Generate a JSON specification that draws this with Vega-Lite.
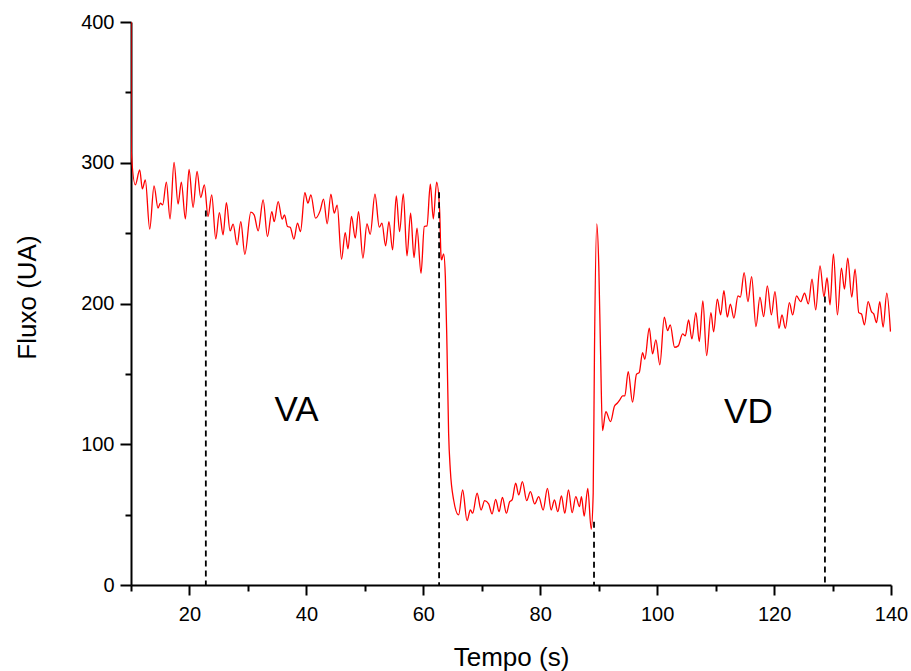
{
  "$schema": "https://vega.github.io/schema/vega-lite/v6.json",
  "width": 760,
  "height": 563,
  "autosize": {"type": "none"},
  "padding": {"left": 131, "top": 22, "right": 20, "bottom": 86},
  "background": "white",
  "config": {
    "view": {"stroke": null},
    "font": "Liberation Sans",
    "axis": {
      "grid": false,
      "domainColor": "black",
      "tickColor": "black",
      "labelColor": "black",
      "titleColor": "black",
      "domainWidth": 2,
      "tickWidth": 2,
      "labelFont": "Liberation Sans",
      "titleFont": "Liberation Sans",
      "labelFontSize": 20,
      "titleFontSize": 26,
      "titleFontWeight": "normal",
      "labelOverlap": false,
      "labelFlush": false
    }
  },
  "datasets": {
    "flux": [
      {"t": 10.00, "v": 400}, {"t": 10.02, "v": 325}, {"t": 10.05, "v": 308},
      {"t": 10.74, "v": 284.3}, {"t": 11.49, "v": 295.0}, {"t": 11.94, "v": 281.4}, {"t": 12.45, "v": 287.8},
      {"t": 13.20, "v": 252.8}, {"t": 13.94, "v": 283.6}, {"t": 14.62, "v": 267.7}, {"t": 15.02, "v": 271.3},
      {"t": 15.42, "v": 270.1}, {"t": 16.05, "v": 286.2}, {"t": 16.68, "v": 260.1}, {"t": 17.36, "v": 300.2},
      {"t": 18.05, "v": 270.6}, {"t": 18.61, "v": 286.2}, {"t": 19.30, "v": 260.1}, {"t": 19.93, "v": 295.2},
      {"t": 20.62, "v": 268.4}, {"t": 21.30, "v": 293.8}, {"t": 21.93, "v": 275.3}, {"t": 22.55, "v": 284.3},
      {"t": 23.18, "v": 261.8}, {"t": 23.81, "v": 277.2}, {"t": 24.50, "v": 245.9}, {"t": 25.12, "v": 264.6},
      {"t": 25.75, "v": 248.8}, {"t": 26.32, "v": 271.7}, {"t": 26.95, "v": 251.6}, {"t": 27.47, "v": 256.4},
      {"t": 28.15, "v": 241.6}, {"t": 28.78, "v": 258.2}, {"t": 29.47, "v": 235.0}, {"t": 30.50, "v": 264.9},
      {"t": 31.06, "v": 263.0}, {"t": 31.75, "v": 251.6}, {"t": 32.60, "v": 273.6}, {"t": 33.34, "v": 247.6},
      {"t": 34.09, "v": 265.3}, {"t": 34.49, "v": 258.2}, {"t": 35.17, "v": 272.4}, {"t": 35.86, "v": 259.9},
      {"t": 36.25, "v": 263.0}, {"t": 36.77, "v": 254.7}, {"t": 37.23, "v": 254.2}, {"t": 37.86, "v": 245.7},
      {"t": 38.48, "v": 257.1}, {"t": 38.99, "v": 251.1}, {"t": 39.74, "v": 278.8}, {"t": 40.26, "v": 271.3},
      {"t": 40.77, "v": 277.2}, {"t": 41.56, "v": 260.6}, {"t": 42.36, "v": 266.0}, {"t": 42.93, "v": 274.1},
      {"t": 43.56, "v": 256.6}, {"t": 44.19, "v": 277.7}, {"t": 44.76, "v": 264.2}, {"t": 45.27, "v": 269.9},
      {"t": 46.01, "v": 231.5}, {"t": 46.64, "v": 250.4}, {"t": 47.11, "v": 238.8}, {"t": 47.72, "v": 261.8},
      {"t": 48.36, "v": 246.4}, {"t": 48.92, "v": 265.3}, {"t": 49.67, "v": 232.2}, {"t": 50.36, "v": 256.6},
      {"t": 50.92, "v": 249.2}, {"t": 51.73, "v": 277.7}, {"t": 52.47, "v": 254.2}, {"t": 52.93, "v": 257.1},
      {"t": 53.55, "v": 240.9}, {"t": 54.12, "v": 258.2}, {"t": 54.75, "v": 238.1}, {"t": 55.38, "v": 276.5},
      {"t": 55.94, "v": 251.1}, {"t": 56.58, "v": 277.9}, {"t": 57.21, "v": 233.8}, {"t": 57.83, "v": 264.2},
      {"t": 58.41, "v": 232.6}, {"t": 58.92, "v": 253.5}, {"t": 59.61, "v": 221.5}, {"t": 60.17, "v": 254.7},
      {"t": 60.63, "v": 255.2}, {"t": 61.20, "v": 284.8}, {"t": 61.71, "v": 260.1}, {"t": 62.28, "v": 286.2},
      {"t": 62.79, "v": 266.5}, {"t": 63.03, "v": 233.3}, {"t": 63.13, "v": 231.0}, {"t": 63.48, "v": 235.3},
      {"t": 63.77, "v": 219.1}, {"t": 64.06, "v": 167.0}, {"t": 64.33, "v": 107.8}, {"t": 64.62, "v": 81.7},
      {"t": 65.19, "v": 60.4}, {"t": 66.04, "v": 49.8}, {"t": 66.73, "v": 67.5}, {"t": 67.48, "v": 45.7},
      {"t": 68.05, "v": 53.3}, {"t": 68.44, "v": 51.0}, {"t": 69.20, "v": 65.2}, {"t": 69.88, "v": 53.3},
      {"t": 70.50, "v": 59.9}, {"t": 71.18, "v": 57.6}, {"t": 71.76, "v": 50.5}, {"t": 72.38, "v": 60.9},
      {"t": 72.96, "v": 52.1}, {"t": 73.53, "v": 62.3}, {"t": 74.21, "v": 51.0}, {"t": 74.78, "v": 59.2},
      {"t": 75.19, "v": 60.4}, {"t": 75.80, "v": 72.3}, {"t": 76.32, "v": 64.0}, {"t": 76.95, "v": 73.4},
      {"t": 77.69, "v": 59.9}, {"t": 78.32, "v": 66.3}, {"t": 79.06, "v": 57.6}, {"t": 79.74, "v": 62.8},
      {"t": 80.50, "v": 53.3}, {"t": 81.23, "v": 68.7}, {"t": 81.87, "v": 53.3}, {"t": 82.43, "v": 60.4},
      {"t": 83.00, "v": 52.1}, {"t": 83.63, "v": 63.3}, {"t": 84.20, "v": 51.0}, {"t": 84.83, "v": 67.5},
      {"t": 85.46, "v": 51.4}, {"t": 86.08, "v": 62.8}, {"t": 86.71, "v": 55.7}, {"t": 87.05, "v": 62.8},
      {"t": 87.52, "v": 49.0}, {"t": 88.13, "v": 68.7}, {"t": 88.72, "v": 39.6}, {"t": 89.06, "v": 65.2},
      {"t": 89.28, "v": 167.0}, {"t": 89.67, "v": 256.6}, {"t": 90.02, "v": 226.2}, {"t": 90.31, "v": 167.0},
      {"t": 90.65, "v": 109.7}, {"t": 91.22, "v": 123.2}, {"t": 92.02, "v": 116.1}, {"t": 92.71, "v": 127.2},
      {"t": 93.17, "v": 129.1}, {"t": 93.61, "v": 131.5}, {"t": 94.08, "v": 134.3}, {"t": 94.47, "v": 134.3},
      {"t": 95.05, "v": 151.6}, {"t": 95.79, "v": 129.9}, {"t": 96.47, "v": 149.8}, {"t": 96.93, "v": 150.9},
      {"t": 97.50, "v": 165.1}, {"t": 97.89, "v": 160.4}, {"t": 98.65, "v": 182.4}, {"t": 99.21, "v": 164.2},
      {"t": 99.78, "v": 174.1}, {"t": 100.46, "v": 156.4}, {"t": 101.22, "v": 190.3}, {"t": 101.78, "v": 180.7},
      {"t": 102.24, "v": 184.8}, {"t": 102.98, "v": 168.9}, {"t": 103.61, "v": 169.9}, {"t": 104.35, "v": 178.4},
      {"t": 104.81, "v": 177.0}, {"t": 105.38, "v": 188.3}, {"t": 105.94, "v": 174.8}, {"t": 106.63, "v": 193.5},
      {"t": 107.21, "v": 172.9}, {"t": 107.82, "v": 201.8}, {"t": 108.46, "v": 163.0}, {"t": 109.20, "v": 193.5},
      {"t": 109.66, "v": 179.8}, {"t": 110.29, "v": 203.1}, {"t": 110.86, "v": 191.9}, {"t": 111.42, "v": 209.2},
      {"t": 112.00, "v": 190.3}, {"t": 112.52, "v": 199.5}, {"t": 113.13, "v": 189.6}, {"t": 113.82, "v": 205.4},
      {"t": 114.23, "v": 204.5}, {"t": 114.88, "v": 222.0}, {"t": 115.53, "v": 201.3}, {"t": 116.16, "v": 219.1},
      {"t": 116.90, "v": 183.6}, {"t": 117.58, "v": 204.5}, {"t": 118.22, "v": 190.7}, {"t": 118.85, "v": 212.5},
      {"t": 119.54, "v": 191.9}, {"t": 120.15, "v": 208.5}, {"t": 120.84, "v": 182.4}, {"t": 121.35, "v": 191.9},
      {"t": 121.93, "v": 182.4}, {"t": 122.62, "v": 200.6}, {"t": 123.18, "v": 191.9}, {"t": 123.84, "v": 205.4},
      {"t": 124.55, "v": 201.3}, {"t": 125.21, "v": 207.3}, {"t": 125.87, "v": 199.7}, {"t": 126.49, "v": 217.3},
      {"t": 127.12, "v": 195.5}, {"t": 127.86, "v": 226.7}, {"t": 128.54, "v": 204.9}, {"t": 129.06, "v": 218.4},
      {"t": 129.57, "v": 199.0}, {"t": 130.15, "v": 235.3}, {"t": 130.84, "v": 191.9}, {"t": 131.52, "v": 225.1},
      {"t": 132.04, "v": 210.2}, {"t": 132.60, "v": 232.2}, {"t": 133.29, "v": 204.5}, {"t": 133.85, "v": 224.4},
      {"t": 134.49, "v": 193.5}, {"t": 134.95, "v": 192.6}, {"t": 135.46, "v": 184.8}, {"t": 136.08, "v": 201.3},
      {"t": 136.66, "v": 194.2}, {"t": 137.05, "v": 192.6}, {"t": 137.52, "v": 186.4}, {"t": 138.08, "v": 201.3},
      {"t": 138.65, "v": 183.2}, {"t": 139.28, "v": 207.3}, {"t": 139.91, "v": 180.0}
    ],
    "marks": [
      {"t": 22.8, "top": 266},
      {"t": 62.7, "top": 279},
      {"t": 89.2, "top": 45},
      {"t": 128.7, "top": 205}
    ],
    "labels": [
      {"t": 38.3, "v": 124, "label": "VA"},
      {"t": 115.6, "v": 123, "label": "VD"}
    ]
  },
  "layer": [
    {
      "data": {"name": "flux"},
      "mark": {"type": "line", "color": "#ff0000", "strokeWidth": 1.3, "interpolate": "monotone", "clip": true},
      "encoding": {
        "x": {
          "field": "t", "type": "quantitative",
          "scale": {"domain": [10, 140], "nice": false, "zero": false},
          "axis": {
            "orient": "bottom",
            "values": [20, 40, 60, 80, 100, 120, 140],
            "tickSize": 10, "labelPadding": 9,
            "title": "Tempo (s)", "titleX": 380, "titleY": 80,
            "titleAlign": "center", "titleBaseline": "alphabetic"
          }
        },
        "y": {
          "field": "v", "type": "quantitative",
          "scale": {"domain": [0, 400], "nice": false, "zero": true},
          "axis": {
            "orient": "left",
            "values": [0, 100, 200, 300, 400],
            "tickSize": 11, "labelPadding": 6,
            "title": "Fluxo (UA)", "titleX": -104, "titleY": 275,
            "titleAngle": -90, "titleAlign": "center", "titleBaseline": "middle"
          }
        }
      }
    },
    {
      "data": {"name": "marks"},
      "mark": {"type": "rule", "color": "black", "strokeWidth": 1.8, "strokeDash": [6, 4]},
      "encoding": {
        "x": {
          "field": "t", "type": "quantitative",
          "scale": {"domain": [10, 140], "nice": false, "zero": false},
          "axis": {
            "orient": "bottom", "values": [10, 30, 50, 70, 90, 110, 130],
            "labels": false, "domain": false, "tickSize": 6, "title": null
          }
        },
        "y": {
          "field": "top", "type": "quantitative",
          "scale": {"domain": [0, 400], "nice": false, "zero": true},
          "axis": {
            "orient": "left", "values": [50, 150, 250, 350],
            "labels": false, "domain": false, "tickSize": 6, "title": null
          }
        },
        "y2": {"datum": 0}
      }
    },
    {
      "data": {"name": "labels"},
      "mark": {"type": "text", "fontSize": 35, "font": "Liberation Sans", "align": "center", "baseline": "middle", "color": "black"},
      "encoding": {
        "x": {"field": "t", "type": "quantitative", "scale": {"domain": [10, 140], "nice": false, "zero": false}, "axis": null},
        "y": {"field": "v", "type": "quantitative", "scale": {"domain": [0, 400], "nice": false, "zero": true}, "axis": null},
        "text": {"field": "label"}
      }
    }
  ],
  "resolve": {"axis": {"x": "independent", "y": "independent"}}
}
